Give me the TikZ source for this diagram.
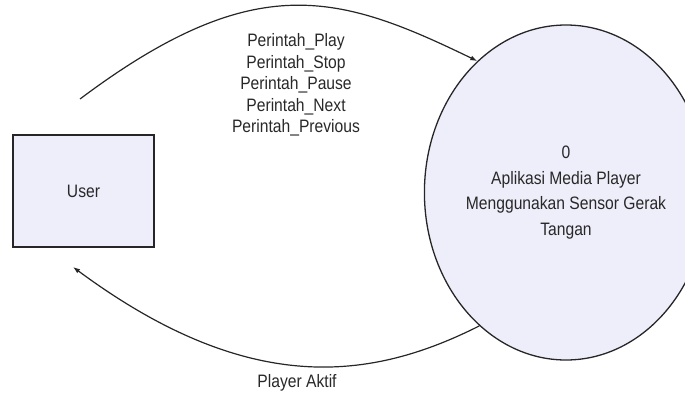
\documentclass[tikz,border=0pt]{standalone}
\usepackage{fontspec}
\setmainfont{Liberation Sans}[FakeStretch=0.87]
\usetikzlibrary{arrows.meta,shapes.geometric}
\definecolor{boxfill}{RGB}{238,238,251}
\definecolor{txt}{RGB}{40,40,40}
\tikzset{
  entity/.style={draw=black!85, line width=1.3pt, fill=boxfill, minimum width=141pt, minimum height=112pt, inner sep=0pt, text=txt},
  process/.style={ellipse, draw=black!85, line width=1.3pt, fill=boxfill, minimum width=237pt, minimum height=335pt, inner sep=0pt, align=center, text=txt, font=\fontsize{18pt}{25.5pt}\selectfont},
  flow/.style={draw=black!85, line width=1.2pt, -{Latex[length=7pt,width=5pt]}},
  lbl/.style={align=center, text=txt, inner sep=0pt, font=\fontsize{18pt}{21.6pt}\selectfont}
}
\begin{document}
\begin{tikzpicture}[x=1pt,y=-1pt]
\useasboundingbox (0,0) rectangle (685,397);
\node[entity, font=\fontsize{18pt}{21pt}\selectfont] (user) at (83.5,191) {User};
\node[process] (proc) at (566,192.5) {0\\Aplikasi Media Player\\Menggunakan Sensor Gerak\\Tangan};
\coordinate (ustart) at (80,99);
\coordinate (uend) at (73,267);
\draw[flow] (ustart) .. controls (255.5,-32.6) and (339.5,-5.75) .. (proc.124);
\draw[flow] (proc.237.4) .. controls (372,380) and (250,398) .. (uend);
\node[lbl] (cmds) at (296,85) {Perintah\_Play\\Perintah\_Stop\\Perintah\_Pause\\Perintah\_Next\\Perintah\_Previous};
\node[lbl] (aktif) at (297,383) {Player Aktif};
\end{tikzpicture}
\end{document}
